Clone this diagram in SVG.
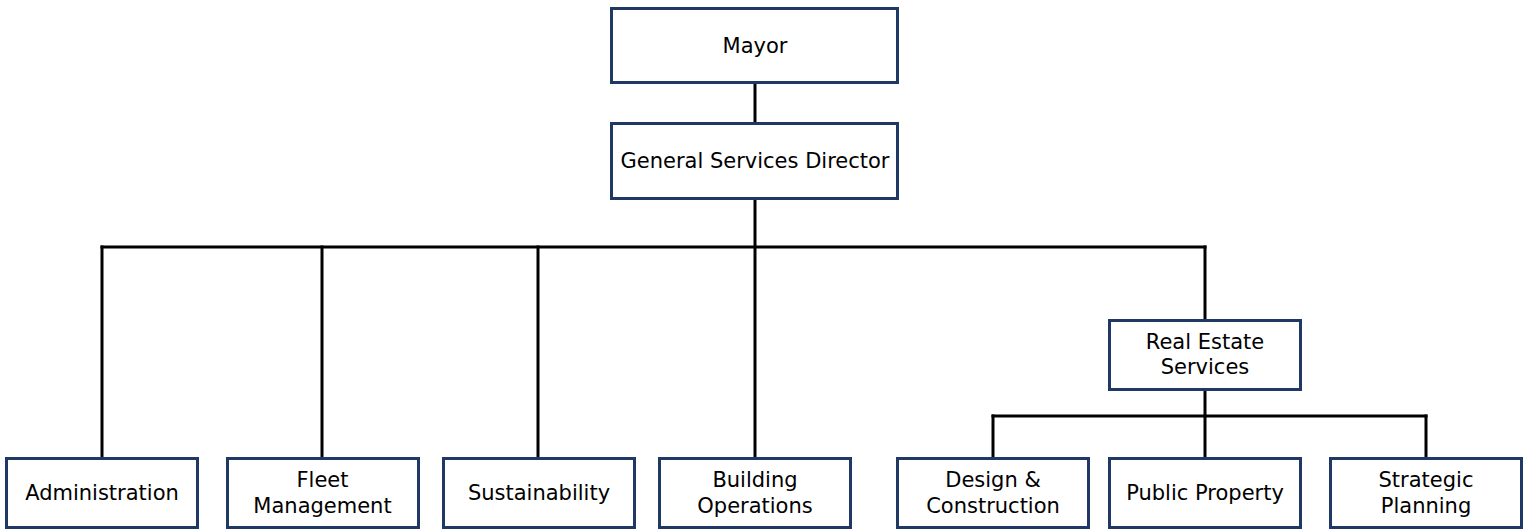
<svg xmlns="http://www.w3.org/2000/svg" width="1529" height="531" viewBox="0 0 1529 531">
  <style>
    .box { fill: #ffffff; stroke: #1f3864; stroke-width: 3; }
    .lbl { font-family: "DejaVu Sans", Verdana, sans-serif; font-size: 21px; fill: #000000; text-anchor: middle; }
    .wire { fill: none; stroke: #000000; stroke-width: 3; stroke-linecap: square; }
  </style>
  <rect width="1529" height="531" fill="#ffffff"/>

  <!-- reporting lines -->
  <g id="connectors">
    <line class="wire" x1="755" y1="84" x2="755" y2="122"/>
    <line class="wire" x1="755" y1="200" x2="755" y2="457"/>
    <line class="wire" x1="102" y1="247" x2="1205" y2="247"/>
    <line class="wire" x1="102" y1="247" x2="102" y2="457"/>
    <line class="wire" x1="322" y1="247" x2="322" y2="457"/>
    <line class="wire" x1="538" y1="247" x2="538" y2="457"/>
    <line class="wire" x1="1205" y1="247" x2="1205" y2="319"/>
    <line class="wire" x1="1205" y1="391" x2="1205" y2="457"/>
    <line class="wire" x1="993" y1="416" x2="1426" y2="416"/>
    <line class="wire" x1="993" y1="416" x2="993" y2="457"/>
    <line class="wire" x1="1426" y1="416" x2="1426" y2="457"/>
  </g>

  <g id="mayor">
    <rect class="box" x="611.5" y="8.5" width="286" height="74"/>
    <text class="lbl" x="755" y="53">Mayor</text>
  </g>

  <g id="general-services-director">
    <rect class="box" x="611.5" y="123.5" width="286" height="75"/>
    <text class="lbl" x="755" y="168">General Services Director</text>
  </g>

  <g id="administration">
    <rect class="box" x="6.5" y="458.5" width="191" height="69"/>
    <text class="lbl" x="102" y="500">Administration</text>
  </g>

  <g id="fleet-management">
    <rect class="box" x="227.5" y="458.5" width="191" height="69"/>
    <text class="lbl" x="322.5" y="487">Fleet</text>
    <text class="lbl" x="322.5" y="512.5">Management</text>
  </g>

  <g id="sustainability">
    <rect class="box" x="443.5" y="458.5" width="191" height="69"/>
    <text class="lbl" x="539" y="500">Sustainability</text>
  </g>

  <g id="building-operations">
    <rect class="box" x="659.5" y="458.5" width="191" height="69"/>
    <text class="lbl" x="755" y="487">Building</text>
    <text class="lbl" x="755" y="512.5">Operations</text>
  </g>

  <g id="real-estate-services">
    <rect class="box" x="1109.5" y="320.5" width="191" height="69"/>
    <text class="lbl" x="1205" y="348.5">Real Estate</text>
    <text class="lbl" x="1205" y="374">Services</text>
  </g>

  <g id="design-construction">
    <rect class="box" x="897.5" y="458.5" width="191" height="69"/>
    <text class="lbl" x="993" y="487">Design &amp;</text>
    <text class="lbl" x="993" y="512.5">Construction</text>
  </g>

  <g id="public-property">
    <rect class="box" x="1109.5" y="458.5" width="191" height="69"/>
    <text class="lbl" x="1205" y="500">Public Property</text>
  </g>

  <g id="strategic-planning">
    <rect class="box" x="1330.5" y="458.5" width="191" height="69"/>
    <text class="lbl" x="1426" y="487">Strategic</text>
    <text class="lbl" x="1426" y="512.5">Planning</text>
  </g>
</svg>
